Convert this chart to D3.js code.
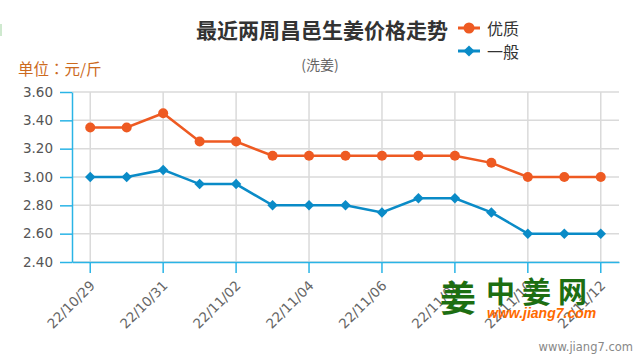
<!DOCTYPE html>
<html>
<head>
<meta charset="utf-8">
<script src="https://cdn.jsdelivr.net/npm/d3@7"></script>
<style>
html,body{margin:0;padding:0;background:#fff;}
svg{display:block;}
</style>
</head>
<body>
<svg id="chart" width="640" height="360"></svg>
<script>
const dates = ["22/10/29","22/10/30","22/10/31","22/11/01","22/11/02","22/11/03","22/11/04","22/11/05","22/11/06","22/11/07","22/11/08","22/11/09","22/11/10","22/11/11","22/11/12"];
const premium = [3.35,3.35,3.45,3.25,3.25,3.15,3.15,3.15,3.15,3.15,3.15,3.10,3.00,3.00,3.00];
const general = [3.00,3.00,3.05,2.95,2.95,2.80,2.80,2.80,2.75,2.85,2.85,2.75,2.60,2.60,2.60];
const yTicks = [2.40,2.60,2.80,3.00,3.20,3.40,3.60];
const xTickLabels = ["22/10/29","22/10/31","22/11/02","22/11/04","22/11/06","22/11/08","22/11/10","22/11/12"];
const seriesNames = ["优质","一般"];

const orange = "#ee5a22", blue = "#0a8bc7", axisColor = "#2ab4e6", gridColor = "#dadada";
const svg = d3.select("#chart");
const pLeft = 72, pRight = 619, pTop = 92, pBottom = 262;

const x = d3.scaleBand().domain(dates).range([pLeft, pRight]).padding(0);
const cx = d => x(d) + x.bandwidth() / 2;
const y = d3.scaleLinear().domain([2.4, 3.6]).range([pBottom, pTop]);

// faint corner mark
svg.append("rect").attr("x",0).attr("y",24).attr("width",2).attr("height",12).attr("fill","#cfe9cf");

// gridlines
svg.append("g").selectAll("line").data(yTicks).join("line")
  .attr("x1", pLeft).attr("x2", pRight).attr("y1", d => y(d)).attr("y2", d => y(d))
  .attr("stroke", gridColor).attr("stroke-width", 1.5);
svg.append("g").selectAll("line").data(xTickLabels).join("line")
  .attr("x1", d => cx(d)).attr("x2", d => cx(d)).attr("y1", pTop).attr("y2", pBottom)
  .attr("stroke", gridColor).attr("stroke-width", 1.5);

// y axis
const yAxis = svg.append("g").attr("transform", `translate(${pLeft},0)`)
  .call(d3.axisLeft(y).tickValues(yTicks).tickSize(12).tickSizeOuter(0).tickPadding(7).tickFormat(d3.format(".2f")));
yAxis.select(".domain").attr("stroke", axisColor).attr("stroke-width", 1.5);
yAxis.selectAll(".tick line").attr("stroke", axisColor).attr("stroke-width", 1.5);
yAxis.selectAll(".tick text").attr("fill", "#555").attr("font-family", "DejaVu Sans").attr("font-size", 13.5);

// x axis
const xAxis = svg.append("g").attr("transform", `translate(0,${pBottom})`)
  .call(d3.axisBottom(x).tickValues(xTickLabels).tickSize(11).tickSizeOuter(0));
xAxis.select(".domain").attr("stroke", axisColor).attr("stroke-width", 1.5);
xAxis.selectAll(".tick line").attr("stroke", axisColor).attr("stroke-width", 1.5);
xAxis.selectAll(".tick text")
  .attr("fill", "#666").attr("font-family", "DejaVu Sans").attr("font-size", 13.5)
  .attr("text-anchor", "end").attr("dominant-baseline", "central")
  .attr("x", 0).attr("y", 0).attr("dy", null)
  .attr("transform", "translate(2,21) rotate(-45)");

// lines
const line = d3.line().x((d, i) => cx(dates[i])).y(d => y(d));
svg.append("path").datum(general).attr("d", line).attr("fill", "none").attr("stroke", blue).attr("stroke-width", 2.5);
svg.append("path").datum(premium).attr("d", line).attr("fill", "none").attr("stroke", orange).attr("stroke-width", 2.5);

const diamond = d3.symbol().type(d3.symbolDiamond2).size(70);
svg.append("g").selectAll("path").data(general).join("path")
  .attr("d", diamond).attr("transform", (d, i) => `translate(${cx(dates[i])},${y(d)})`).attr("fill", blue);
svg.append("g").selectAll("circle").data(premium).join("circle")
  .attr("cx", (d, i) => cx(dates[i])).attr("cy", d => y(d)).attr("r", 5).attr("fill", orange);

// title
svg.append("text").attr("x", 322).attr("y", 29).attr("text-anchor", "middle").attr("dominant-baseline", "central")
  .attr("font-family", "Noto Sans CJK SC").attr("font-weight", "bold").attr("font-size", 21).attr("fill", "#333")
  .text("最近两周昌邑生姜价格走势");
svg.append("text").attr("x", 320).attr("y", 64).attr("text-anchor", "middle").attr("dominant-baseline", "central")
  .attr("font-family", "Noto Sans CJK SC").attr("font-size", 14).attr("fill", "#666").text("(洗姜)");
svg.append("text").attr("x", 18).attr("y", 68).attr("dominant-baseline", "central")
  .attr("font-family", "Noto Sans CJK TC").attr("font-size", 15.5).attr("fill", "#cc6a1e").text("单位：元/斤");

// legend
const leg = svg.append("g");
[[orange, 28], [blue, 51]].forEach(([c, ly], i) => {
  leg.append("line").attr("x1", 458).attr("x2", 480).attr("y1", ly).attr("y2", ly).attr("stroke", c).attr("stroke-width", 3);
  if (i === 0) leg.append("circle").attr("cx", 469).attr("cy", ly).attr("r", 5.5).attr("fill", c);
  else leg.append("path").attr("d", d3.symbol().type(d3.symbolDiamond2).size(80)).attr("transform", `translate(469,${ly})`).attr("fill", c);
  leg.append("text").attr("x", 487).attr("y", ly).attr("dominant-baseline", "central")
    .attr("font-family", "Noto Sans CJK SC").attr("font-size", 16).attr("fill", "#333").text(seriesNames[i]);
});

// logo watermark
const logo = svg.append("g");
logo.append("text").attr("x", 440).attr("y", 296).attr("dominant-baseline", "central")
  .attr("font-family", "Noto Sans CJK SC").attr("font-weight", "bold").attr("font-size", 36).attr("fill", "#1d6e12").text("姜");
logo.append("text").attr("x", 486).attr("y", 290).attr("dominant-baseline", "central")
  .attr("font-family", "Noto Sans CJK SC").attr("font-weight", "bold").attr("font-size", 29).attr("letter-spacing", 7).attr("fill", "#1d6e12").text("中姜网");
logo.append("text").attr("x", 487).attr("y", 313).attr("dominant-baseline", "central")
  .attr("font-family", "Liberation Sans").attr("font-weight", "bold").attr("font-style", "italic").attr("font-size", 14).attr("fill", "#ff6a00").text("www.jiang7.com");

svg.append("text").attr("x", 633).attr("y", 347).attr("text-anchor", "end").attr("dominant-baseline", "central")
  .attr("font-family", "DejaVu Sans").attr("font-size", 11.5).attr("fill", "#888").text("www.jiang7.com");
</script>
</body>
</html>
